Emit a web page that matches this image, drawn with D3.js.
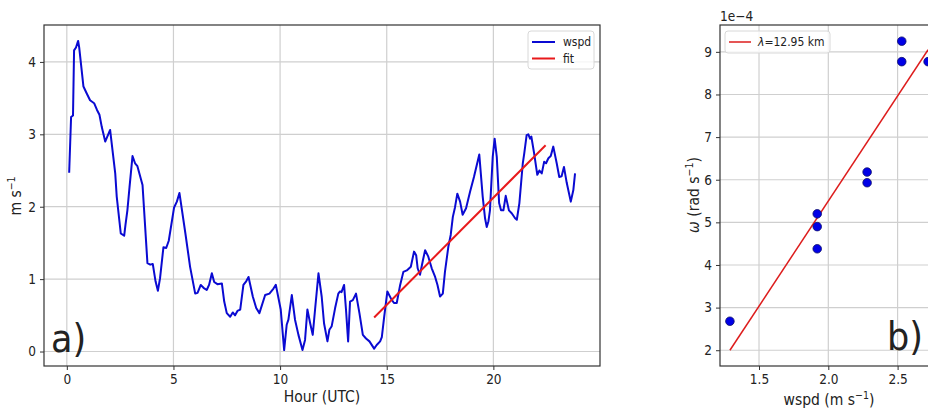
<!DOCTYPE html>
<html>
<head>
<meta charset="utf-8">
<script src="https://cdn.jsdelivr.net/npm/d3@7"></script>
<style>
  body { margin: 0; background: #fff; }
  svg { display: block; overflow: hidden; }
  text { font-family: "DejaVu Sans Condensed", "DejaVu Sans", sans-serif; fill: #222; }
</style>
</head>
<body>
<div class="chart"></div>
<script>
// panel a) wind speed time series
var hours = [0.11, 0.20, 0.29, 0.34, 0.43, 0.53, 0.58, 0.78, 0.94, 1.09, 1.28, 1.41, 1.53, 1.64, 1.80, 2.03,
    2.27, 2.34, 2.53, 2.69, 2.75, 2.84, 2.94, 3.08, 3.20, 3.31, 3.55, 3.78, 3.91, 4.03, 4.16, 4.27, 4.37,
    4.53, 4.66, 4.78, 5.03, 5.16, 5.28, 5.56, 5.78, 6.02, 6.13, 6.28, 6.41, 6.56, 6.67, 6.80, 6.91, 7.06,
    7.27, 7.38, 7.50, 7.66, 7.78, 7.89, 8.00, 8.13, 8.28, 8.41, 8.52, 8.72, 8.88, 9.03, 9.30, 9.50, 9.69,
    9.80, 10.03, 10.19, 10.31, 10.39, 10.55, 10.70, 10.86, 11.05, 11.17, 11.28, 11.41, 11.53, 11.64, 11.80,
    11.95, 12.06, 12.22, 12.31, 12.42, 12.58, 12.73, 12.81, 12.88, 13.00, 13.09, 13.19, 13.28, 13.41, 13.56,
    13.72, 13.88, 14.03, 14.19, 14.41, 14.53, 14.69, 14.77, 14.88, 15.03, 15.22, 15.34, 15.47, 15.63, 15.78,
    15.94, 16.13, 16.28, 16.38, 16.45, 16.56, 16.69, 16.80, 16.95, 17.11, 17.27, 17.38, 17.50, 17.63, 17.73,
    17.89, 18.00, 18.10, 18.20, 18.31, 18.44, 18.56, 18.72, 18.91, 19.09, 19.34, 19.50, 19.61, 19.69, 19.77,
    19.84, 19.97, 20.06, 20.16, 20.27, 20.36, 20.47, 20.58, 20.73, 20.86, 21.02, 21.10, 21.22, 21.38, 21.45,
    21.56, 21.64, 21.72, 21.78, 21.91, 22.06, 22.16, 22.27, 22.38, 22.47, 22.58, 22.69, 22.81, 22.97, 23.09,
    23.20, 23.31, 23.44, 23.63, 23.75, 23.83];
var wspd = [2.47, 3.24, 3.26, 4.16, 4.20, 4.29, 4.20, 3.66, 3.56, 3.47, 3.43, 3.34, 3.27, 3.10, 2.90, 3.06,
    2.46, 2.14, 1.63, 1.60, 1.75, 1.95, 2.27, 2.70, 2.60, 2.56, 2.30, 1.22, 1.20, 1.21, 0.97, 0.84, 1.01,
    1.44, 1.43, 1.53, 1.99, 2.07, 2.19, 1.63, 1.17, 0.80, 0.81, 0.92, 0.88, 0.85, 0.92, 1.08, 0.96, 0.93,
    0.94, 0.69, 0.53, 0.48, 0.54, 0.50, 0.56, 0.58, 0.92, 0.97, 1.03, 0.76, 0.60, 0.53, 0.78, 0.80, 0.87,
    0.92, 0.58, 0.02, 0.37, 0.44, 0.78, 0.44, 0.23, 0.02, 0.16, 0.58, 0.39, 0.23, 0.58, 1.08,
    0.76, 0.39, 0.14, 0.30, 0.35, 0.60, 0.80, 0.83, 0.82, 0.92, 0.58, 0.14, 0.69, 0.71, 0.80,
    0.53, 0.23, 0.18, 0.14, 0.04, 0.09, 0.14, 0.20, 0.48, 0.83, 0.72, 0.67, 0.67, 0.92, 1.10,
    1.12, 1.17, 1.38, 1.33, 1.15, 1.06, 1.25, 1.40, 1.31, 1.15, 1.03, 0.92, 0.76, 0.80, 1.10,
    1.45, 1.61, 1.86, 1.99, 2.18, 2.07, 1.89, 1.98, 2.21, 2.41, 2.72, 2.14, 1.84, 1.72, 1.80,
    1.95, 2.69, 2.94, 2.69, 2.05, 1.95, 1.95, 2.15, 1.95, 1.91, 1.84, 1.82, 2.05, 2.60, 2.74,
    2.99, 3.00, 2.94, 2.97, 2.74, 2.44, 2.50, 2.46, 2.62, 2.60, 2.67, 2.70, 2.83, 2.60, 2.41,
    2.42, 2.55, 2.33, 2.07, 2.23, 2.46];
var fitHours = [14.41, 22.45];
var fitWspd = [0.47, 2.85];
var hourTicks = [0, 5, 10, 15, 20];
var wspdTicks = [0, 1, 2, 3, 4];

// panel b) frequency vs wind speed
var scatterWspd = [1.29, 1.92, 1.92, 1.92, 2.28, 2.28, 2.53, 2.53, 2.72];
var scatterOmega = [2.68, 5.20, 4.90, 4.38, 6.18, 5.93, 9.25, 8.77, 8.77];
var lineWspd = [1.29, 2.72];
var lineOmega = [2.00, 9.05];
var bWspdTicks = [1.5, 2.0, 2.5];
var bOmegaTicks = [2, 3, 4, 5, 6, 7, 8, 9];

var width = 928, height = 408;
var gridColor = "#cfcfcf";

var svg = d3.select("div.chart")
    .append("svg")
    .attr("width", width)
    .attr("height", height);

function drawFrame(g, x, y, xTicks, yTicks, xFmt) {
    var w = x.range()[1] - x.range()[0];
    var h = y.range()[0] - y.range()[1];

    // grid
    g.append("g").selectAll("line")
        .data(xTicks).enter().append("line")
        .attr("x1", function (d) { return x(d); })
        .attr("x2", function (d) { return x(d); })
        .attr("y1", 0).attr("y2", h)
        .attr("stroke", gridColor).attr("stroke-width", 1.2);
    g.append("g").selectAll("line")
        .data(yTicks).enter().append("line")
        .attr("y1", function (d) { return y(d); })
        .attr("y2", function (d) { return y(d); })
        .attr("x1", 0).attr("x2", w)
        .attr("stroke", gridColor).attr("stroke-width", 1.2);

    var xAxis = g.append("g")
        .attr("transform", "translate(0," + h + ")")
        .call(d3.axisBottom(x).tickValues(xTicks).tickFormat(xFmt).tickSize(4).tickPadding(4));
    var yAxis = g.append("g")
        .call(d3.axisLeft(y).tickValues(yTicks).tickFormat(d3.format("d")).tickSize(4).tickPadding(4));
    [xAxis, yAxis].forEach(function (a) {
        a.select(".domain").remove();
        a.selectAll(".tick line").attr("stroke", "#333");
        a.selectAll(".tick text")
            .style("font-family", '"DejaVu Sans Condensed", "DejaVu Sans", sans-serif')
            .style("font-size", "13.5px").attr("fill", "#222");
    });

    g.append("rect")
        .attr("width", w).attr("height", h)
        .attr("fill", "none").attr("stroke", "#333").attr("stroke-width", 1.2);
}

// ---- panel a)
var a = { left: 44, top: 25, right: 600, bottom: 366 };
var xa = d3.scaleLinear().domain([-1.07, 25.0]).range([0, a.right - a.left]);
var ya = d3.scaleLinear().domain([-0.2, 4.51]).range([a.bottom - a.top, 0]);
var ga = svg.append("g").attr("transform", "translate(" + a.left + "," + a.top + ")");
drawFrame(ga, xa, ya, hourTicks, wspdTicks, d3.format("d"));

var lineA = d3.line()
    .x(function (d) { return xa(d[0]); })
    .y(function (d) { return ya(d[1]); });

ga.append("path")
    .datum(d3.zip(hours, wspd))
    .attr("d", lineA)
    .attr("fill", "none")
    .attr("stroke", "#0a0ad2")
    .attr("stroke-width", 2)
    .attr("stroke-linejoin", "round");

ga.append("path")
    .datum(d3.zip(fitHours, fitWspd))
    .attr("d", lineA)
    .attr("fill", "none")
    .attr("stroke", "#e8191b")
    .attr("stroke-width", 2);

ga.append("text")
    .attr("x", 7).attr("y", 327)
    .style("font-size", "39px")
    .text("a)");

ga.append("text")
    .attr("x", (a.right - a.left) / 2).attr("y", 377)
    .attr("text-anchor", "middle")
    .style("font-size", "15.5px")
    .text("Hour (UTC)");

var yla = svg.append("text")
    .attr("transform", "translate(21,196) rotate(-90)")
    .attr("text-anchor", "middle")
    .style("font-size", "15.5px");
yla.append("tspan").text("m s");
yla.append("tspan").attr("dy", -6).style("font-size", "10.5px").text("\u22121");

// legend a)
var lega = svg.append("g").attr("transform", "translate(528,31)");
lega.append("rect")
    .attr("width", 66).attr("height", 38).attr("rx", 3)
    .attr("fill", "#fff").attr("fill-opacity", 0.8)
    .attr("stroke", "#d8d8d8");
var legItems = [["wspd", "#0a0ad2"], ["fit", "#e8191b"]];
legItems.forEach(function (d, i) {
    lega.append("line")
        .attr("x1", 4).attr("x2", 27)
        .attr("y1", 11 + i * 16.5).attr("y2", 11 + i * 16.5)
        .attr("stroke", d[1]).attr("stroke-width", 2);
    lega.append("text")
        .attr("x", 35).attr("y", 15 + i * 16.5)
        .style("font-size", "12px")
        .text(d[0]);
});

// ---- panel b)
var b = { left: 720, top: 25, right: 938, bottom: 366 };
var xb = d3.scaleLinear().domain([1.2185, 2.7915]).range([0, b.right - b.left]);
var yb = d3.scaleLinear().domain([1.63, 9.63]).range([b.bottom - b.top, 0]);
var gb = svg.append("g").attr("transform", "translate(" + b.left + "," + b.top + ")");
drawFrame(gb, xb, yb, bWspdTicks, bOmegaTicks, d3.format(".1f"));

gb.append("path")
    .datum(d3.zip(lineWspd, lineOmega))
    .attr("d", d3.line()
        .x(function (d) { return xb(d[0]); })
        .y(function (d) { return yb(d[1]); }))
    .attr("fill", "none")
    .attr("stroke", "#dd1c1c")
    .attr("stroke-width", 1.5);

gb.selectAll("circle")
    .data(d3.zip(scatterWspd, scatterOmega))
    .enter().append("circle")
    .attr("cx", function (d) { return xb(d[0]); })
    .attr("cy", function (d) { return yb(d[1]); })
    .attr("r", 4.3)
    .attr("fill", "#0000e6")
    .attr("stroke", "#10106a")
    .attr("stroke-width", 0.8);

gb.append("text")
    .attr("x", 167).attr("y", 325)
    .style("font-size", "39px")
    .text("b)");

svg.append("text")
    .attr("x", 720).attr("y", 21)
    .style("font-size", "13.5px")
    .text("1e\u22124");

var xlb = gb.append("text")
    .attr("x", (b.right - b.left) / 2).attr("y", 380)
    .attr("text-anchor", "middle")
    .style("font-size", "15.5px");
xlb.append("tspan").text("wspd (m s");
xlb.append("tspan").attr("dy", -6).style("font-size", "10.5px").text("\u22121");
xlb.append("tspan").attr("dy", 6).text(")");

var ylb = svg.append("text")
    .attr("transform", "translate(699,195) rotate(-90)")
    .attr("text-anchor", "middle")
    .style("font-size", "15.5px");
ylb.append("tspan").style("font-style", "italic").text("\u03c9");
ylb.append("tspan").text(" (rad s");
ylb.append("tspan").attr("dy", -6).style("font-size", "10.5px").text("\u22121");
ylb.append("tspan").attr("dy", 6).text(")");

// legend b)
var legb = svg.append("g").attr("transform", "translate(725,31)");
legb.append("rect")
    .attr("width", 105).attr("height", 22).attr("rx", 3)
    .attr("fill", "#fff").attr("fill-opacity", 0.8)
    .attr("stroke", "#d8d8d8");
legb.append("line")
    .attr("x1", 4).attr("x2", 26).attr("y1", 11).attr("y2", 11)
    .attr("stroke", "#dd1c1c").attr("stroke-width", 1.5);
var legbText = legb.append("text")
    .attr("x", 33).attr("y", 15)
    .style("font-size", "12px");
legbText.append("tspan").style("font-style", "italic").text("\u03bb");
legbText.append("tspan").text("=12.95 km");
</script>
</body>
</html>
